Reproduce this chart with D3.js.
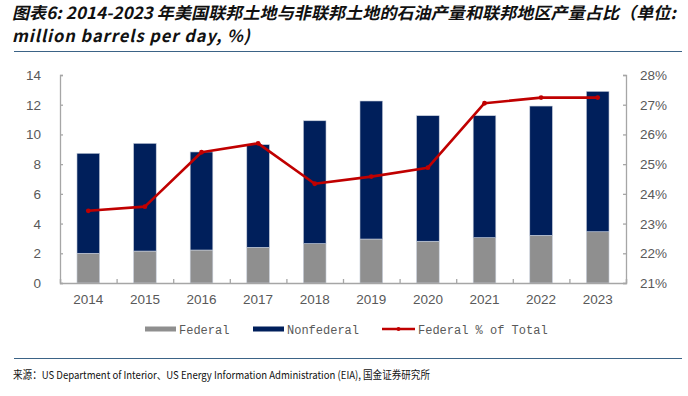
<!DOCTYPE html>
<html><head><meta charset="utf-8">
<script src="https://cdn.jsdelivr.net/npm/d3@7/dist/d3.min.js"></script>
<style>body{margin:0;background:#fff}svg{display:block}</style>
</head><body>
<svg id="c" width="688" height="396"></svg>
<script>
const years = ["2014","2015","2016","2017","2018","2019","2020","2021","2022","2023"];
const federal = [2.00, 2.15, 2.22, 2.40, 2.65, 2.96, 2.81, 3.05, 3.21, 3.45];
const total = [8.73, 9.40, 8.82, 9.31, 10.92, 12.25, 11.26, 11.26, 11.91, 12.90];
const nonfederal = total.map((t,i)=>+(t-federal[i]).toFixed(2));
const fedShare = [23.43, 23.57, 25.40, 25.70, 24.34, 24.58, 24.88, 27.05, 27.24, 27.24];
const leftTicks = [0,2,4,6,8,10,12,14];
const rightTicks = [21,22,23,24,25,26,27,28];
const legendLabels = ["Federal","Nonfederal","Federal % of Total"];

const svg = d3.select("#c");
const C = {fed:"#8f8f8f", non:"#001f5b", line:"#c00000", axis:"#a6a6a6", tick:"#595959", rule:"#3b6386"};
const L=60, R=626, T=75, B=283;

// title (skewed to mimic the italic CJK face)
const title = svg.append("g").attr("font-family","'Noto Sans CJK SC'").attr("font-weight","bold")
  .attr("font-size",16.5).attr("fill","#111");
title.append("text").attr("transform","translate(12,19) skewX(-13)")
  .attr("textLength",664).attr("lengthAdjust","spacingAndGlyphs")
  .text("图表6: 2014-2023 年美国联邦土地与非联邦土地的石油产量和联邦地区产量占比（单位:");
title.append("text").attr("transform","translate(12,42) skewX(-13)")
  .attr("textLength",238).attr("lengthAdjust","spacing")
  .text("million barrels per day, %)");
svg.append("line").attr("x1",14).attr("x2",682).attr("y1",51.5).attr("y2",51.5).attr("stroke",C.rule).attr("stroke-width",1.2);
svg.append("line").attr("x1",14).attr("x2",682).attr("y1",358.5).attr("y2",358.5).attr("stroke",C.rule).attr("stroke-width",1.2);

const x = d3.scaleBand().domain(years).range([L,R]).paddingInner(0.6).paddingOuter(0.3);
const y = d3.scaleLinear().domain([0,14]).range([B,T]);
const y2 = d3.scaleLinear().domain([21,28]).range([B,T]);

// bars
const stackData = years.map((yr,i)=>({year:yr, Federal:federal[i], Nonfederal:nonfederal[i]}));
const series = d3.stack().keys(["Federal","Nonfederal"])(stackData);
const colors = [C.fed, C.non];
svg.append("g").selectAll("g").data(series).join("g").attr("fill",(d,i)=>colors[i])
  .selectAll("rect").data(d=>d).join("rect")
  .attr("x",d=>x(d.data.year)).attr("width",x.bandwidth())
  .attr("y",d=>y(d[1])).attr("height",d=>y(d[0])-y(d[1]))
  .attr("stroke","#c8d0dc").attr("stroke-width",0.6);

// axes
const axL = svg.append("g").attr("transform",`translate(${L},0)`)
  .call(d3.axisRight(y).tickValues(leftTicks).tickSize(3).tickFormat(""));
const axR = svg.append("g").attr("transform",`translate(${R},0)`)
  .call(d3.axisLeft(y2).tickValues(rightTicks).tickSize(3).tickFormat(""));
const xb = d3.scaleLinear().domain([0,years.length]).range([L,R]);
const axB = svg.append("g").attr("transform",`translate(0,${B})`)
  .call(d3.axisTop(xb).tickValues(d3.range(0,years.length+1)).tickSize(4).tickFormat(""));
[axL,axR,axB].forEach(a=>{a.selectAll("path,line").attr("stroke",C.axis).attr("stroke-width",1.3);});

const lab = svg.append("g").attr("font-family","'Liberation Sans', Arial").attr("font-size",13.5).attr("fill",C.tick);
lab.selectAll(".l").data(leftTicks).join("text").attr("x",41).attr("y",d=>y(d)+5).attr("text-anchor","end").text(d=>d);
lab.selectAll(".r").data(rightTicks).join("text").attr("x",640).attr("y",d=>y2(d)+5).text(d=>d+"%");
lab.selectAll(".b").data(years).join("text").attr("x",d=>x(d)+x.bandwidth()/2).attr("y",304).attr("text-anchor","middle").text(d=>d);

// line
const cx = (d,i)=>x(years[i])+x.bandwidth()/2;
svg.append("path").datum(fedShare).attr("fill","none").attr("stroke",C.line).attr("stroke-width",2.6)
  .attr("stroke-linejoin","round")
  .attr("d",d3.line().x(cx).y(d=>y2(d)));
svg.append("g").selectAll("circle").data(fedShare).join("circle")
  .attr("cx",cx).attr("cy",d=>y2(d)).attr("r",2.4).attr("fill",C.line);

// legend
const lg = svg.append("g").attr("font-family","'Liberation Mono', monospace").attr("font-size",12).attr("fill",C.tick);
const items = [{x:145,t:legendLabels[0],c:C.fed,type:"bar"},{x:253,t:legendLabels[1],c:C.non,type:"bar"},{x:382,t:legendLabels[2],c:C.line,type:"line"}];
items.forEach(it=>{
  if(it.type==="bar") lg.append("rect").attr("x",it.x).attr("y",326.5).attr("width",31).attr("height",5).attr("fill",it.c);
  else {
    lg.append("line").attr("x1",it.x).attr("x2",it.x+33).attr("y1",329).attr("y2",329).attr("stroke",it.c).attr("stroke-width",2.4);
    lg.append("circle").attr("cx",it.x+16.5).attr("cy",329).attr("r",2).attr("fill",it.c);
  }
  lg.append("text").attr("x",it.type==="bar"?it.x+34:it.x+36).attr("y",333.5).text(it.t);
});

// source
svg.append("text").attr("x",13).attr("y",379).attr("font-family","'Noto Sans CJK SC'").attr("font-size",11)
  .attr("fill","#111").attr("textLength",417).attr("lengthAdjust","spacingAndGlyphs")
  .text("来源：US Department of Interior、US Energy Information Administration (EIA), 国金证券研究所");
</script>
</body></html>
